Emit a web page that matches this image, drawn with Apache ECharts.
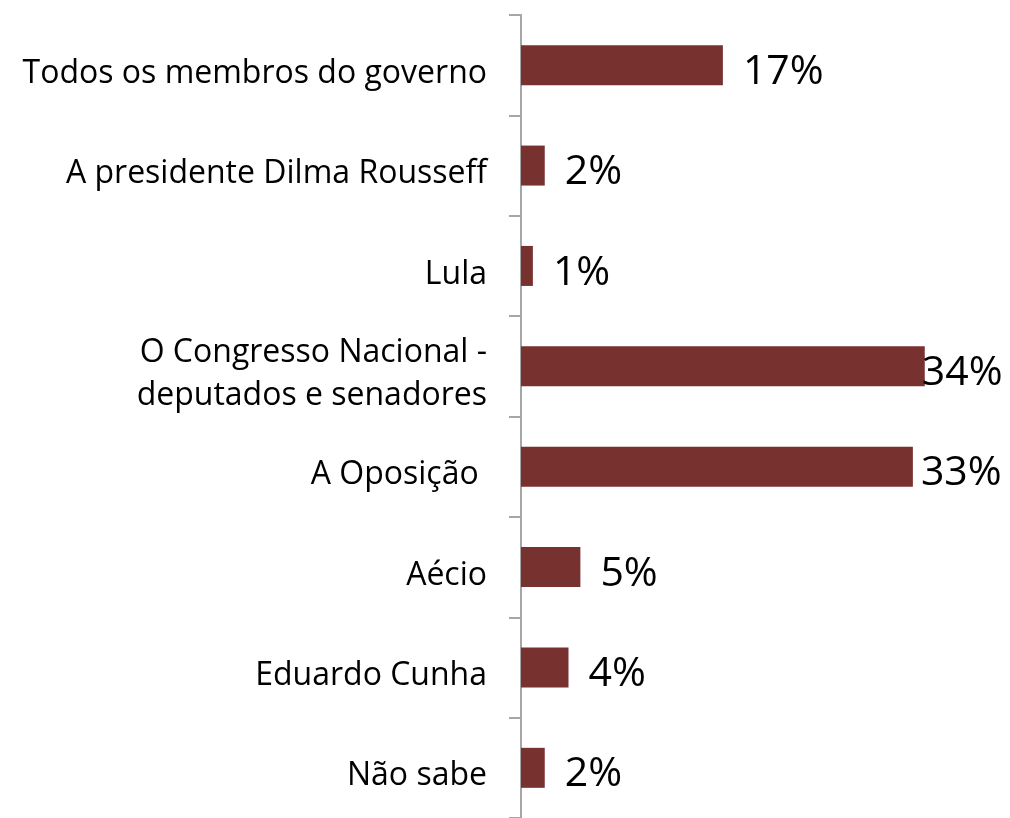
<!DOCTYPE html>
<html>
<head>
<meta charset="utf-8">
<script src="https://cdn.jsdelivr.net/npm/echarts@6/dist/echarts.min.js"></script>
<style>
html,body{margin:0;padding:0;background:#fff;}
#chart{width:1010px;height:818px;}
</style>
</head>
<body>
<div id="chart"></div>
<script>
const categories = [
  "Todos os membros do governo",
  "A presidente Dilma Rousseff",
  "Lula",
  "O Congresso Nacional -\ndeputados e senadores",
  "A Oposição ",
  "Aécio",
  "Eduardo Cunha",
  "Não sabe"
];
const values = [17, 2, 1, 34, 33, 5, 4, 2];
const labelDistances = [20, 20, 20, -3, 8, 20, 20, 20];

const chart = echarts.init(document.getElementById('chart'));
chart.setOption({
  animation: false,
  grid: { left: 521, right: 14, top: 15, bottom: -4, containLabel: false },
  xAxis: {
    type: 'value', min: 0, max: 40,
    show: false
  },
  yAxis: {
    type: 'category',
    inverse: true,
    data: categories,
    axisLine: { show: true, lineStyle: { color: '#a6a6a6', width: 2 } },
    axisTick: { show: true, length: 12, lineStyle: { color: '#a6a6a6', width: 2 } },
    axisLabel: {
      margin: 34,
      align: 'right',
      formatter: v => '{s| }\n' + v.split('\n').map(l => '{a|' + l + '}').join('\n'),
      rich: {
        s: { fontSize: 1, lineHeight: 17 },
        a: { fontFamily: 'Open Sans', fontSize: 32, lineHeight: 43, color: '#000', align: 'right' }
      }
    }
  },
  series: [{
    type: 'bar',
    barWidth: 40,
    itemStyle: { color: '#77312f' },
    data: values.map((v, i) => ({
      value: v,
      label: { distance: labelDistances[i] }
    })),
    label: {
      show: true,
      position: 'right',
      offset: [0, 7],
      formatter: p => p.value + '%',
      fontFamily: 'Open Sans',
      fontSize: 41,
      color: '#000'
    }
  }]
});
</script>
</body>
</html>
